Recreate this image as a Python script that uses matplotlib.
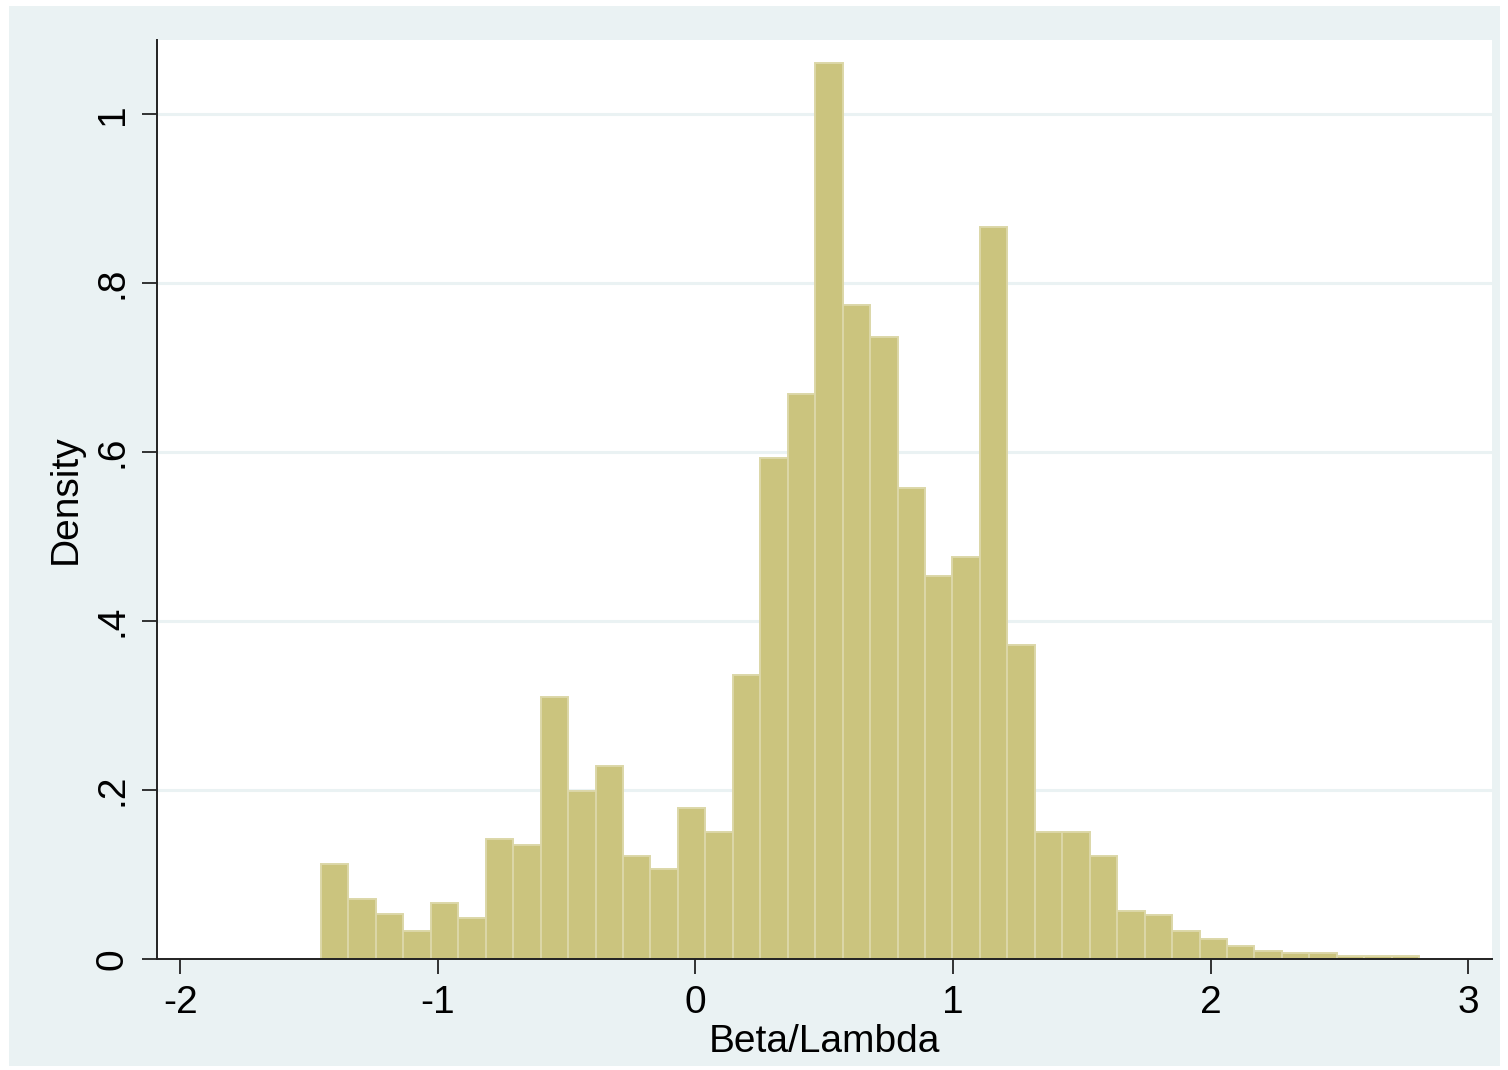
import numpy as np
import matplotlib
matplotlib.use("Agg")
import matplotlib.pyplot as plt
from matplotlib.patches import Rectangle

# Histogram of Beta/Lambda: 40 equal-width bins, density scale
bin_low = -1.454
bin_high = 2.810
n_bins = 40
density = [
    0.112, 0.071, 0.053, 0.033, 0.066, 0.049, 0.142, 0.135, 0.310, 0.199,
    0.228, 0.122, 0.107, 0.179, 0.150, 0.336, 0.593, 0.669, 1.060, 0.774,
    0.736, 0.557, 0.453, 0.476, 0.866, 0.372, 0.150, 0.150, 0.122, 0.057,
    0.052, 0.033, 0.024, 0.015, 0.010, 0.0075, 0.0075, 0.003, 0.003, 0.003,
]
x_ticks = [-2, -1, 0, 1, 2, 3]
x_tick_labels = ["-2", "-1", "0", "1", "2", "3"]
y_ticks = [0, 0.2, 0.4, 0.6, 0.8, 1.0]
y_tick_labels = ["0", ".2", ".4", ".6", ".8", "1"]

plt.rcParams["font.family"] = ["Liberation Sans", "DejaVu Sans"]

W, H, DPI = 1508, 1070, 100
fig = plt.figure(figsize=(W / DPI, H / DPI), dpi=DPI, facecolor="white")

# outer graph region
fig.patches.append(Rectangle((9 / W, 1 - 1066 / H), (1500 - 9) / W, (1066 - 6) / H,
                             transform=fig.transFigure, facecolor="#EAF2F3",
                             edgecolor="none", zorder=-10))

left, right, top, bottom = 157, 1492, 40, 959
ax = fig.add_axes([left / W, 1 - bottom / H, (right - left) / W, (bottom - top) / H])
ax.set_zorder(1)
ax.set_facecolor("white")

edges = np.linspace(bin_low, bin_high, n_bins + 1)
centers = 0.5 * (edges[:-1] + edges[1:])
ax.hist(centers, bins=edges, weights=density, color="#CBC47E",
        edgecolor="#DCD7A8", linewidth=1.4, zorder=3)

ax.set_xlim(-2.091, 3.093)
ax.set_ylim(0, 1.0876)

ax.set_yticks(y_ticks)
ax.set_yticklabels(y_tick_labels, rotation=90, va="center")
ax.set_xticks(x_ticks)
ax.set_xticklabels(x_tick_labels)

ax.yaxis.grid(True, color="#EAF2F3", linewidth=2.2, zorder=0)
ax.set_axisbelow(True)

for s in ("top", "right"):
    ax.spines[s].set_visible(False)
for s in ("left", "bottom"):
    ax.spines[s].set_color("#222222")
    ax.spines[s].set_linewidth(1.4)
    ax.spines[s].set_zorder(4)

ax.tick_params(axis="both", direction="out", length=11, width=1.3,
               color="#222222", labelsize=28, labelcolor="black", pad=8)

ax.set_xlabel("Beta/Lambda", fontsize=28, labelpad=2)
ax.set_ylabel("Density", fontsize=28, labelpad=8)

fig.savefig("out.png", dpi=DPI, facecolor="white")
